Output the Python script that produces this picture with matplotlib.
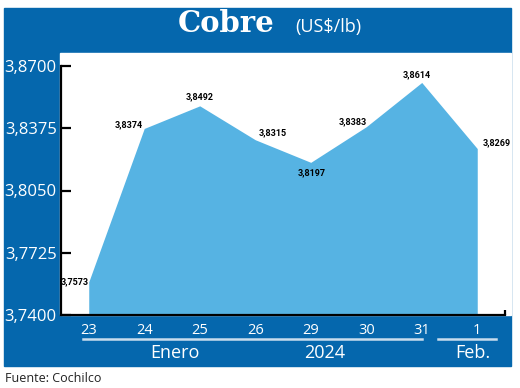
import matplotlib
matplotlib.use("Agg")
import matplotlib.pyplot as plt
from matplotlib.patches import Rectangle

# datos
days = ["23", "24", "25", "26", "29", "30", "31", "1"]
prices = [3.7573, 3.8374, 3.8492, 3.8315, 3.8197, 3.8383, 3.8614, 3.8269]
yticks = [3.7400, 3.7725, 3.8050, 3.8375, 3.8700]
# desplazamiento de cada etiqueta (px) y alineacion
label_off = [(0, 0, "right"), (-1, 4, "right"), (0, 9, "center"), (3, 7, "left"),
             (1, -10, "center"), (1, 5, "right"), (-5, 8, "center"), (5, 6, "left")]

BLUE = "#0567AD"
FILL = "#56B3E3"
LINE = "#C9DDEE"
W, H = 520, 388

fig = plt.figure(figsize=(W / 100, H / 100), dpi=100)
fig.patch.set_facecolor("white")


def rect(x0, y0, x1, y1, color):
    # pixeles (origen arriba-izquierda) -> fraccion de figura
    fig.patches.append(Rectangle((x0 / W, 1 - y1 / H), (x1 - x0) / W, (y1 - y0) / H,
                                 transform=fig.transFigure, color=color, zorder=-1))


rect(4, 8, 511, 366, BLUE)
rect(60, 53, 511, 315, "white")

fig.text(226 / W, 1 - 32 / H, "Cobre", color="white", fontsize=21, fontweight="bold",
         family="DejaVu Serif", ha="center", va="baseline")
fig.text(295 / W, 1 - 32 / H, "(US$/lb)", color="white", fontsize=13,
         family="Open Sans", ha="left", va="baseline")
fig.text(5 / W, 1 - 378 / H, "Fuente: Cochilco", color="#222222", fontsize=9,
         family="Open Sans", ha="left", va="center")

ax = fig.add_axes([61 / W, (H - 315) / H, (505 - 61) / W, (315 - 66) / H])
ax.set_facecolor("none")
ax.set_zorder(1)

x = list(range(len(days)))
ax.fill_between(x, prices, yticks[0], color=FILL, lw=0, zorder=1)

ax.set_xlim(-0.5, len(days) - 0.5)
ax.set_ylim(yticks[0], yticks[-1])

for s in ["top", "right"]:
    ax.spines[s].set_visible(False)
for s in ["left", "bottom"]:
    ax.spines[s].set_linewidth(1.6)
    ax.spines[s].set_zorder(3)

ax.set_yticks(yticks)
ax.set_yticklabels([f"{v:.4f}".replace(".", ",") for v in yticks])
ax.tick_params(axis="y", direction="in", length=7, width=1.6, pad=3,
               labelcolor="white", labelsize=12)
for t in ax.get_yticklabels():
    t.set_family("Open Sans")

ax.set_xticks(x)
ax.set_xticklabels(days)
ax.set_xticks([len(days) - 0.5], minor=True)
ax.tick_params(axis="x", which="major", length=0, pad=6, labelcolor="white", labelsize=10.5)
ax.tick_params(axis="x", which="minor", direction="in", length=3.5, width=1.6)
for t in ax.get_xticklabels():
    t.set_family("Open Sans")

# etiquetas de valores
for xi, (v, (dx, dy, ha)) in enumerate(zip(prices, label_off)):
    ax.annotate(f"{v:.4f}".replace(".", ","), (xi, v), xytext=(dx * 0.72, dy * 0.72),
                textcoords="offset points", ha=ha, va="center", fontsize=6.5,
                fontweight="bold", family=["Liberation Sans Narrow", "Roboto"],
                fontstretch="condensed", color="black", zorder=4)

# meses bajo el eje
tr = ax.get_xaxis_transform()
ax.plot([-0.11, 6.0], [-0.097, -0.097], color=LINE, lw=1.8, transform=tr, clip_on=False)
ax.plot([6.29, 7.33], [-0.097, -0.097], color=LINE, lw=1.8, transform=tr, clip_on=False)
for xt, txt in [(1.56, "Enero"), (4.25, "2024"), (6.92, "Feb.")]:
    ax.text(xt, -0.153, txt, transform=tr, color="white", fontsize=13,
            family="Open Sans", ha="center", va="center")

fig.savefig("out.png", dpi=100)
